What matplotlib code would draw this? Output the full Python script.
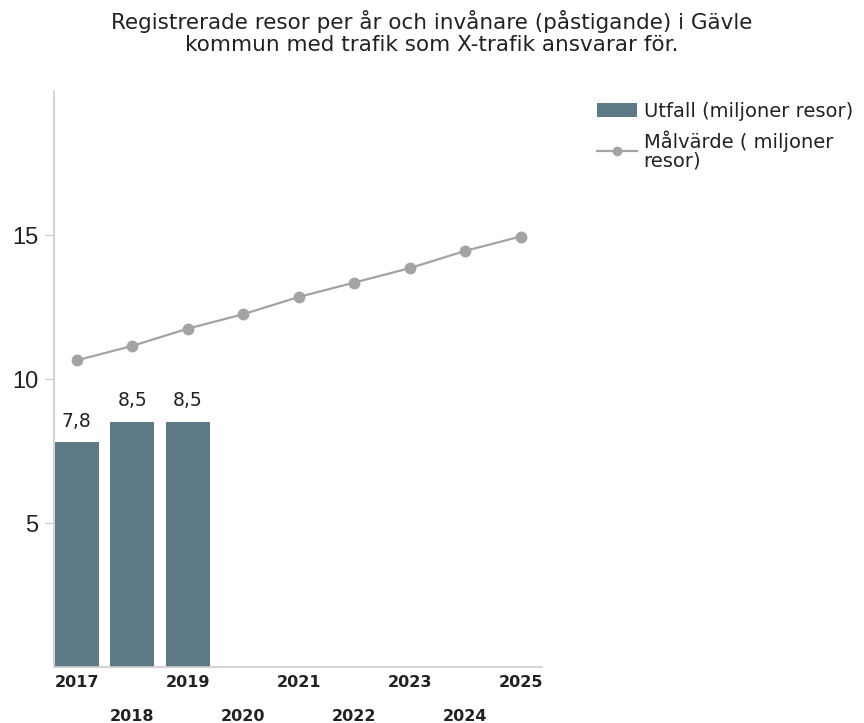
import numpy as np
import matplotlib.pyplot as plt
from matplotlib.patches import Patch
from matplotlib.lines import Line2D

plt.rcParams['font.family'] = ['DejaVu Sans']

# data
years = ['2017', '2018', '2019', '2020', '2021', '2022', '2023', '2024', '2025']
utfall = [7.8, 8.5, 8.5]
malvarde = [10.65, 11.15, 11.75, 12.25, 12.85, 13.35, 13.85, 14.45, 14.95]

bar_color = '#5f7a87'
line_color = '#a3a3a3'
text_color = '#222222'

fig = plt.figure(figsize=(8.64, 7.23), dpi=100)
ax = fig.add_axes([0.0625, 0.0775, 0.5645, 0.7965])

x = np.arange(len(years))
ax.bar(x[:len(utfall)], utfall, width=0.79, color=bar_color, zorder=2)
ax.plot(x, malvarde, color=line_color, lw=1.6, marker='o', markersize=7.5, zorder=3)

# labels on bars
for xi, v in zip(x[:len(utfall)], utfall):
    ax.annotate(str(v).replace('.', ','), (xi, v), xytext=(0, 8.5), textcoords='offset points',
                ha='center', va='bottom', fontsize=13.5, color=text_color)

ax.set_xlim(-0.41, 8.38)
ax.set_ylim(0, 20)
ax.set_yticks([5, 10, 15])
ax.set_yticklabels(['5', '10', '15'], family='Liberation Sans')
ax.tick_params(axis='y', length=6.5, color='#cccccc', labelsize=17, labelcolor=text_color, pad=5)

# odd years on first row, even years on second row
ax.set_xticks(x[::2])
ax.set_xticklabels(years[::2])
ax.set_xticks(x[1::2], minor=True)
ax.set_xticklabels(years[1::2], minor=True)
ax.tick_params(axis='x', which='major', length=0, pad=6, labelsize=11.5, labelcolor=text_color)
ax.tick_params(axis='x', which='minor', length=0, pad=30, labelsize=11.5, labelcolor=text_color)
for lab in ax.get_xticklabels() + ax.get_xticklabels(minor=True):
    lab.set_fontweight('bold')

for s in ['top', 'right']:
    ax.spines[s].set_visible(False)
ax.spines['left'].set_color('#cccccc')
ax.spines['bottom'].set_color('#cccccc')
ax.spines['left'].set_linewidth(1.2)
ax.spines['bottom'].set_linewidth(1.2)

fig.suptitle('Registrerade resor per år och invånare (påstigande) i Gävle\nkommun med trafik som X-trafik ansvarar för.',
             x=0.5, y=0.986, va='top', fontsize=15.5, color=text_color, linespacing=1.1)

handles = [Patch(facecolor=bar_color),
           Line2D([0], [0], color=line_color, lw=1.6, marker='o', markersize=6)]
labels = ['Utfall (miljoner resor)', 'Målvärde ( miljoner\nresor)']
leg = fig.legend(handles, labels, loc='upper left', bbox_to_anchor=(0.691, 0.859),
                 frameon=False, fontsize=14, handlelength=2.05, handleheight=0.75,
                 handletextpad=0.35, labelspacing=0.5, borderaxespad=0, borderpad=0)
for t in leg.get_texts():
    t.set_color(text_color)
    t.set_linespacing(0.95)

fig.savefig('out.png', dpi=100)
